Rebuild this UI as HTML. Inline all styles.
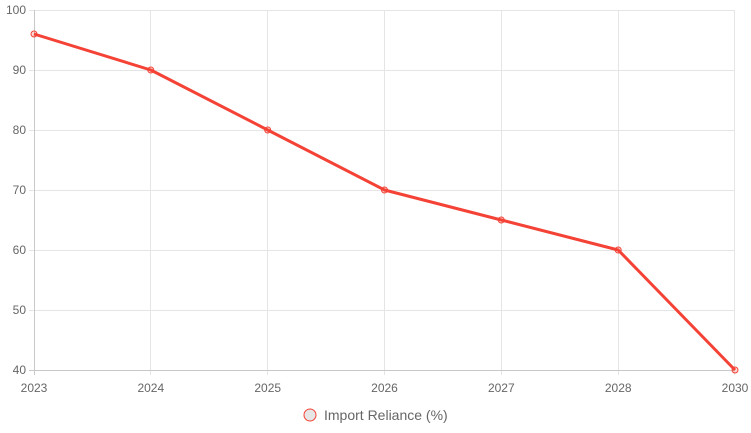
<!DOCTYPE html>
<html><head><meta charset="utf-8"><style>
html,body{margin:0;padding:0;background:#fff;}
svg{display:block;font-family:"Liberation Sans",sans-serif;}
</style></head><body>
<svg width="751" height="433" viewBox="0 0 751 433">
<g stroke="#e5e5e5" stroke-width="1">
<line x1="29" y1="10.5" x2="735" y2="10.5"/>
<line x1="29" y1="70.5" x2="735" y2="70.5"/>
<line x1="29" y1="130.5" x2="735" y2="130.5"/>
<line x1="29" y1="190.5" x2="735" y2="190.5"/>
<line x1="29" y1="250.5" x2="735" y2="250.5"/>
<line x1="29" y1="310.5" x2="735" y2="310.5"/>
<line x1="150.5" y1="10" x2="150.5" y2="375"/>
<line x1="267.5" y1="10" x2="267.5" y2="375"/>
<line x1="384.5" y1="10" x2="384.5" y2="375"/>
<line x1="501.5" y1="10" x2="501.5" y2="375"/>
<line x1="618.5" y1="10" x2="618.5" y2="375"/>
<line x1="734.5" y1="10" x2="734.5" y2="375"/>
</g>
<g stroke="#c8c8c8" stroke-width="1">
<line x1="34.5" y1="10" x2="34.5" y2="375"/>
<line x1="29" y1="370.5" x2="735" y2="370.5"/>
</g>
<g fill="#666" font-size="12" text-anchor="end">
<text x="26" y="14">100</text>
<text x="26" y="74">90</text>
<text x="26" y="134">80</text>
<text x="26" y="194">70</text>
<text x="26" y="254">60</text>
<text x="26" y="314">50</text>
<text x="26" y="374">40</text>
</g>
<g fill="#666" font-size="12" text-anchor="middle">
<text x="34" y="392">2023</text>
<text x="150.8" y="392">2024</text>
<text x="267.7" y="392">2025</text>
<text x="384.5" y="392">2026</text>
<text x="501.3" y="392">2027</text>
<text x="618.2" y="392">2028</text>
<text x="735" y="392">2030</text>
</g>
<polyline fill="none" stroke="#f44336" stroke-width="3" stroke-linejoin="round" points="34,34 150.8,70 267.7,130 384.5,190 501.3,220 618.2,250 735,370"/>
<g fill="rgba(244,67,54,0.2)" stroke="#f44336" stroke-width="1">
<circle cx="34" cy="34" r="3"/><circle cx="150.8" cy="70" r="3"/><circle cx="267.7" cy="130" r="3"/><circle cx="384.5" cy="190" r="3"/><circle cx="501.3" cy="220" r="3"/><circle cx="618.2" cy="250" r="3"/><circle cx="735" cy="370" r="3"/>
</g>
<circle cx="310" cy="415" r="6" fill="#e6e6e6" stroke="#f44336" stroke-width="1"/>
<text x="324" y="420" fill="#666" font-size="14">Import Reliance (%)</text>
</svg>
</body></html>
